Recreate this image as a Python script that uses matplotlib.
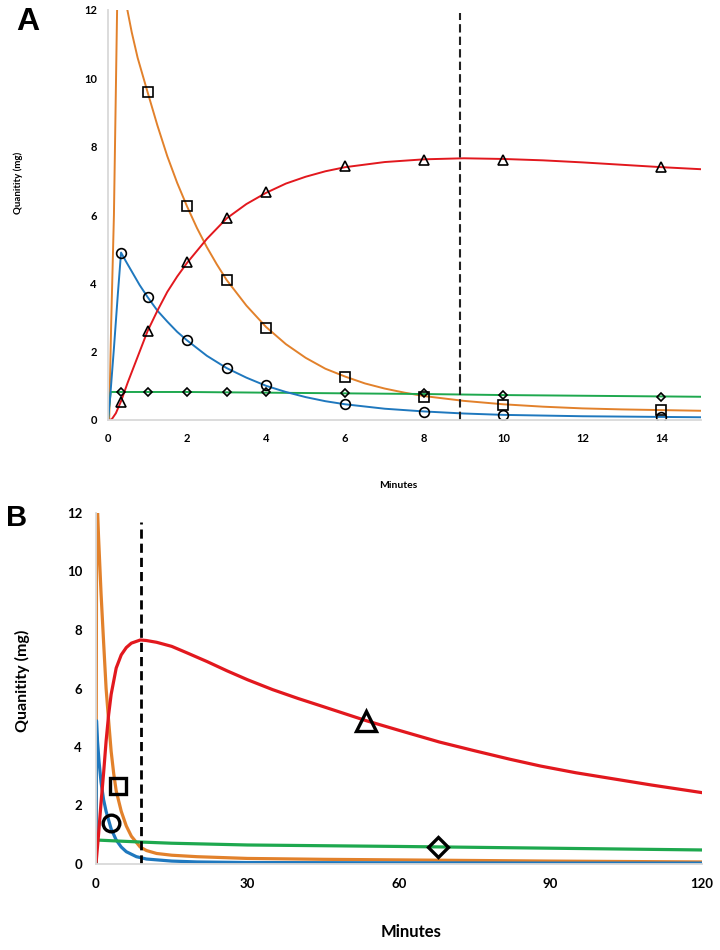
import matplotlib
matplotlib.use("Agg")
import matplotlib.pyplot as plt

plt.rcParams['font.family'] = ['Lato', 'DejaVu Sans']
plt.rcParams['font.weight'] = 'bold'

# colours of the four compartments
c_orange = '#E2812B'
c_blue = '#1F78BE'
c_red = '#E2181E'
c_green = '#1EA84E'

# ---- panel A : first 15 minutes (curves) ----
a_orange_t = [0, 0.03, 0.08, 0.15, 0.23, 0.3, 0.4, 0.49, 0.6, 0.75, 0.9, 1, 1.25, 1.5, 1.75, 2, 2.25, 2.5,
              2.75, 3, 3.5, 4, 4.5, 5, 5.5, 6, 6.5, 7, 7.5, 8, 9, 10, 11, 12, 13, 14, 15]
a_orange_v = [0, 0, 2.8, 6.0, 12.0, 13.4, 12.7, 12.0, 11.35, 10.6, 10.0, 9.6, 8.62, 7.72, 6.94, 6.25, 5.62,
              5.06, 4.56, 4.1, 3.35, 2.72, 2.22, 1.82, 1.5, 1.27, 1.07, 0.92, 0.8, 0.7, 0.56, 0.46, 0.39,
              0.34, 0.31, 0.29, 0.27]
a_blue_t = [0, 0.05, 0.15, 0.25, 0.33, 0.45, 0.6, 0.8, 1, 1.25, 1.5, 1.75, 2, 2.5, 3, 3.5, 4, 4.5, 5, 5.5,
            6, 7, 8, 9, 10, 12, 14, 15]
a_blue_v = [0, 0.6, 2.1, 3.7, 4.9, 4.65, 4.35, 3.95, 3.6, 3.2, 2.88, 2.58, 2.33, 1.88, 1.52, 1.24, 1.0,
            0.82, 0.67, 0.55, 0.46, 0.33, 0.25, 0.19, 0.15, 0.11, 0.09, 0.08]
a_red_t = [0, 0.05, 0.1, 0.2, 0.33, 0.5, 0.75, 1, 1.25, 1.5, 1.75, 2, 2.5, 3, 3.5, 4, 4.5, 5, 5.5, 6, 7,
           8, 9, 10, 11, 12, 13, 14, 15]
a_red_v = [0, 0, 0.03, 0.2, 0.55, 1.1, 1.85, 2.6, 3.2, 3.75, 4.2, 4.6, 5.3, 5.9, 6.32, 6.65, 6.92, 7.12,
           7.28, 7.4, 7.55, 7.63, 7.66, 7.64, 7.6, 7.54, 7.47, 7.4, 7.34]
a_green_t = [0, 0.02, 0.07, 0.33, 1, 2, 3, 4, 6, 8, 10, 12, 14, 15]
a_green_v = [0, 0.3, 0.82, 0.82, 0.82, 0.82, 0.81, 0.8, 0.78, 0.76, 0.73, 0.71, 0.69, 0.68]

# panel A : sampled points (markers)
sq_t = [1, 2, 3, 4, 6, 8, 10, 14]
sq_v = [9.6, 6.25, 4.1, 2.7, 1.27, 0.67, 0.44, 0.29]
pt_t = [0.33, 1, 2, 3, 4, 6, 8, 10, 14]
circ_v = [4.9, 3.6, 2.33, 1.52, 1.02, 0.46, 0.24, 0.15, 0.09]
tri_v = [0.52, 2.6, 4.62, 5.9, 6.68, 7.42, 7.62, 7.62, 7.41]
dia_v = [0.82, 0.82, 0.82, 0.82, 0.82, 0.8, 0.78, 0.72, 0.68]

t_max = 8.9  # dashed line: time of peak

# ---- panel B : 120 minutes ----
b_orange_t = [0, 0.1, 0.2, 0.5, 1, 1.5, 2, 2.5, 3, 3.5, 4, 5, 6, 7, 8.75, 10, 12, 15, 20, 30, 45, 60, 90, 120]
b_orange_v = [0, 10, 12.6, 11.2, 9.25, 7.6, 6.0, 4.9, 3.85, 3.1, 2.5, 1.8, 1.3, 0.95, 0.58, 0.46, 0.36,
              0.3, 0.25, 0.19, 0.16, 0.14, 0.1, 0.07]
b_blue_t = [0, 0.1, 0.3, 0.6, 1, 1.5, 2, 3, 4, 5, 6, 8, 10, 15, 20, 30, 60, 90, 120]
b_blue_v = [0, 4.9, 4.2, 3.5, 2.8, 2.2, 1.8, 1.2, 0.82, 0.58, 0.42, 0.25, 0.17, 0.1, 0.07, 0.05, 0.04,
            0.03, 0.03]
b_red_t = [0, 0.5, 1, 1.5, 2, 2.5, 3, 4, 5, 6, 7, 8.8, 10, 12, 15, 18, 22, 26, 30, 35, 40, 45, 53.5, 60,
           68, 75, 82, 88, 95, 100, 110, 120]
b_red_v = [0, 1.0, 2.1, 3.1, 4.2, 5.1, 5.8, 6.7, 7.15, 7.4, 7.55, 7.66, 7.64, 7.58, 7.44, 7.22, 6.92, 6.6,
           6.3, 5.96, 5.66, 5.38, 4.9, 4.57, 4.17, 3.87, 3.58, 3.35, 3.12, 2.98, 2.7, 2.44]
b_green_t = [0, 0.05, 5, 9, 15, 30, 60, 90, 120]
b_green_v = [0, 0.82, 0.78, 0.75, 0.71, 0.65, 0.6, 0.54, 0.48]

# one big marker per curve in B
b_mark = {'s': (4.4, 2.66), 'o': (2.9, 1.4), '^': (53.5, 4.9), 'D': (67.7, 0.59)}

fig = plt.figure(figsize=(7.2, 9.5), dpi=100)

def style_axes(ax, size, xpad, ypad):
    for s in ['top', 'right']:
        ax.spines[s].set_visible(False)
    for s in ['left', 'bottom']:
        ax.spines[s].set_color('#D9D9D9')
        ax.spines[s].set_linewidth(1.3)
    ax.tick_params(axis='both', length=0, labelsize=size)
    ax.tick_params(axis='x', pad=xpad)
    ax.tick_params(axis='y', pad=ypad)

# ---------- A ----------
axA = fig.add_axes([108 / 720, 1 - 420 / 950, 593 / 720, 410 / 950])
lw = 1.4
axA.plot(a_orange_t, a_orange_v, color=c_orange, lw=lw)
axA.plot(a_green_t, a_green_v, color=c_green, lw=lw)
axA.plot(a_blue_t, a_blue_v, color=c_blue, lw=lw)
axA.plot(a_red_t, a_red_v, color=c_red, lw=lw)
mk = dict(linestyle='none', markerfacecolor='none', markeredgecolor='black', markeredgewidth=1.2)
axA.plot(sq_t, sq_v, marker='s', markersize=7, **mk)
axA.plot(pt_t, circ_v, marker='o', markersize=7, **mk)
axA.plot(pt_t, tri_v, marker='^', markersize=7, **mk)
axA.plot(pt_t, dia_v, marker='D', markersize=4.2, **mk)
axA.plot([t_max, t_max], [0, 11.9], color='#222222', lw=1.5, linestyle=(0, (4, 2)))
axA.set_xlim(0, 15)
axA.set_ylim(0, 12)
axA.set_xticks(range(0, 15, 2))
axA.set_yticks(range(0, 13, 2))
style_axes(axA, 8, 9, 8)

# ---------- B ----------
axB = fig.add_axes([96 / 720, 1 - 864 / 950, 606 / 720, 351 / 950])
lw = 2.3
axB.plot(b_orange_t, b_orange_v, color=c_orange, lw=lw)
axB.plot(b_blue_t, b_blue_v, color=c_blue, lw=lw)
axB.plot(b_green_t, b_green_v, color=c_green, lw=lw)
axB.plot(b_red_t, b_red_v, color=c_red, lw=lw)
mkB = dict(linestyle='none', markerfacecolor='none', markeredgecolor='black', markeredgewidth=2.4)
axB.plot(*b_mark['s'], marker='s', markersize=12, **mkB)
axB.plot(*b_mark['o'], marker='o', markersize=12, **mkB)
axB.plot(*b_mark['^'], marker='^', markersize=14, **mkB)
axB.plot(*b_mark['D'], marker='D', markersize=10.5, **mkB)
axB.plot([t_max, t_max], [0, 11.7], color='black', lw=2, linestyle=(0, (3.3, 1.8)))
axB.set_xlim(0, 120)
axB.set_ylim(0, 12)
axB.set_xticks(range(0, 121, 30))
axB.set_yticks(range(0, 13, 2))
style_axes(axB, 9.5, 10, 10)

# labels and panel letters
fig.text(18 / 720, 1 - 183 / 950, 'Quanitity (mg)', rotation=90, ha='center', va='center', fontsize=7)
fig.text(398 / 720, 1 - 485 / 950, 'Minutes', ha='center', va='center', fontsize=7.5)
fig.text(22 / 720, 1 - 681 / 950, 'Quanitity (mg)', rotation=90, ha='center', va='center', fontsize=11.5)
fig.text(411 / 720, 1 - 932 / 950, 'Minutes', ha='center', va='center', fontsize=12)
fig.text(28 / 720, 1 - 22 / 950, 'A', ha='center', va='center', fontsize=23,
         family='Liberation Sans', fontweight='bold')
fig.text(17 / 720, 1 - 518 / 950, 'B', ha='center', va='center', fontsize=21,
         family='Liberation Sans', fontweight='bold')

fig.savefig('out.png', dpi=100)
